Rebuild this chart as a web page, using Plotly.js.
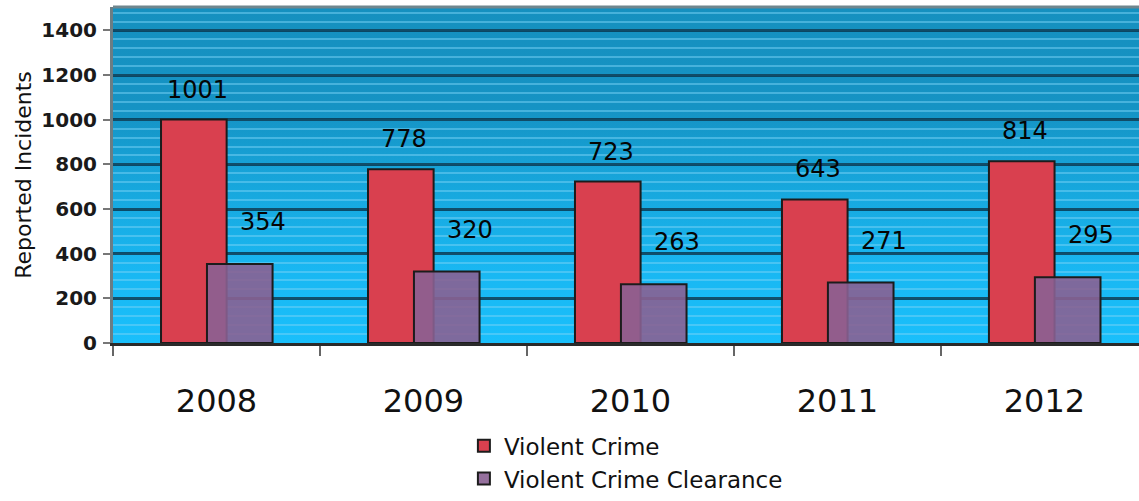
<!DOCTYPE html>
<html>
<head>
<meta charset="utf-8">
<script src="https://cdn.plot.ly/plotly-3.0.1.min.js"></script>
<style>
  html, body { margin: 0; padding: 0; background: #fff; }
  #chart { width: 1139px; height: 501px; }
</style>
</head>
<body>
<div id="chart"></div>
<script>
// Chart data
const years = ['2008', '2009', '2010', '2011', '2012'];
const violentCrime = [1001, 778, 723, 643, 814];
const clearance = [354, 320, 263, 271, 295];
const yTicks = [0, 200, 400, 600, 800, 1000, 1200, 1400];

const font = 'DejaVu Sans, Verdana, sans-serif';

// vertical blue gradient behind the plot area
const bgSvg = "<svg xmlns='http://www.w3.org/2000/svg' width='10' height='100' preserveAspectRatio='none'>" +
  "<defs><linearGradient id='g' x1='0' y1='0' x2='0' y2='1'>" +
  "<stop offset='0' stop-color='#1590bf'/>" +
  "<stop offset='0.3' stop-color='#1593c4'/>" +
  "<stop offset='0.55' stop-color='#17a8de'/>" +
  "<stop offset='0.8' stop-color='#19b8f3'/>" +
  "<stop offset='1' stop-color='#19bffb'/>" +
  "</linearGradient></defs><rect width='10' height='100' fill='url(#g)'/></svg>";
const bgUri = 'data:image/svg+xml;charset=utf-8,' + encodeURIComponent(bgSvg);

const traceCrime = {
  type: 'bar',
  name: 'Violent Crime',
  x: years,
  y: violentCrime,
  width: 0.317,
  offset: -0.268,
  marker: { color: '#d9404f', line: { color: '#1c1c1c', width: 2 } }
};

const traceClear = {
  type: 'bar',
  name: 'Violent Crime Clearance',
  x: years,
  y: clearance,
  width: 0.317,
  offset: -0.046,
  marker: { color: 'rgba(138,96,146,0.9)', line: { color: '#1c1c1c', width: 2 } }
};

// value labels (x given as category index)
const annotations = [];
for (let i = 0; i < years.length; i++) {
  annotations.push({
    xref: 'x', yref: 'y',
    x: i, y: violentCrime[i], text: String(violentCrime[i]),
    showarrow: false, xshift: -19, yshift: 30,
    font: { family: font, size: 24, color: '#050505' }
  });
  annotations.push({
    xref: 'x', yref: 'y',
    x: i, y: clearance[i], text: String(clearance[i]),
    showarrow: false, xshift: 47, yshift: 42,
    font: { family: font, size: 24, color: '#050505' }
  });
}

const layout = {
  width: 1139,
  height: 501,
  margin: { l: 113, r: 0, t: 7, b: 158 },
  paper_bgcolor: '#ffffff',
  plot_bgcolor: 'rgba(0,0,0,0)',
  barmode: 'overlay',
  showlegend: true,
  font: { family: font, color: '#111' },
  images: [{
    source: bgUri, xref: 'paper', yref: 'paper', x: 0, y: 1,
    sizex: 1, sizey: 1, xanchor: 'left', yanchor: 'top',
    sizing: 'stretch', layer: 'below'
  }],
  xaxis: {
    type: 'category',
    range: [-0.5, 4.457],
    showgrid: false,
    showline: true,
    linecolor: '#2a2a2a',
    linewidth: 3,
    ticks: 'outside',
    tickson: 'boundaries',
    ticklen: 10,
    tickwidth: 2,
    tickcolor: '#666',
    ticklabelstandoff: 28,
    tickfont: { family: font, size: 32, color: '#111' }
  },
  yaxis: {
    range: [0, 1505],
    tickvals: yTicks,
    showgrid: true,
    gridcolor: 'rgba(8,58,82,0.85)',
    gridwidth: 3,
    zeroline: false,
    showline: true,
    linecolor: '#6b7d84',
    linewidth: 3,
    ticks: 'outside',
    ticklen: 7,
    tickwidth: 2,
    tickcolor: '#777',
    ticklabelstandoff: 2,
    tickfont: { family: font, size: 20, color: '#1a1a1a', weight: 'bold' },
    minor: {
      dtick: 40,
      showgrid: true,
      gridcolor: 'rgba(120,210,245,0.5)',
      gridwidth: 2
    },
    title: {
      text: 'Reported Incidents',
      standoff: 4,
      font: { family: font, size: 22, color: '#111' }
    },
    automargin: true
  },
  shapes: [{
    type: 'line', xref: 'paper', yref: 'paper',
    x0: 0, x1: 1, y0: 1, y1: 1,
    line: { color: '#6f868e', width: 3 }
  }],
  legend: {
    orientation: 'v',
    x: 0.342, xanchor: 'left',
    y: -0.468, yanchor: 'bottom',
    bgcolor: 'rgba(0,0,0,0)',
    font: { family: font, size: 23, color: '#111' },
    itemwidth: 30
  },
  annotations: annotations
};

Plotly.newPlot('chart', [traceCrime, traceClear], layout, { displayModeBar: false, staticPlot: true });
</script>
</body>
</html>
